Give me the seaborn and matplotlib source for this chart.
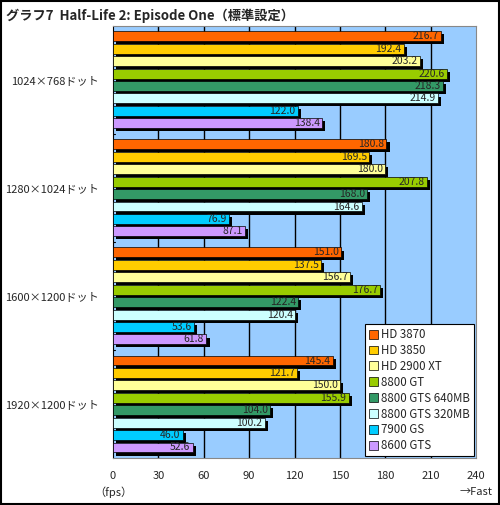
import numpy as np
import pandas as pd
import seaborn as sns
import matplotlib.pyplot as plt
import matplotlib.patheffects as pe
from matplotlib.patches import Rectangle

# data
resolutions = ["1024×768ドット", "1280×1024ドット", "1600×1200ドット", "1920×1200ドット"]
cards = ["HD 3870", "HD 3850", "HD 2900 XT", "8800 GT",
         "8800 GTS 640MB", "8800 GTS 320MB", "7900 GS", "8600 GTS"]
fps_1024 = [216.7, 192.4, 203.2, 220.6, 218.3, 214.9, 122.0, 138.4]
fps_1280 = [180.8, 169.5, 180.0, 207.8, 168.0, 164.6, 76.9, 87.1]
fps_1600 = [151.0, 137.5, 156.7, 176.7, 122.4, 120.4, 53.6, 61.8]
fps_1920 = [145.4, 121.7, 150.0, 155.9, 104.0, 100.2, 46.0, 52.6]
colors = ["#FF6600", "#FFCC00", "#FFFF99", "#99CC00",
          "#339966", "#CCFFFF", "#00CCFF", "#CC99FF"]
x_ticks = [0, 30, 60, 90, 120, 150, 180, 210, 240]

rows = []
for res, vals in zip(resolutions, [fps_1024, fps_1280, fps_1600, fps_1920]):
    for card, v in zip(cards, vals):
        rows.append({"res": res, "card": card, "fps": v})
df = pd.DataFrame(rows)

sns.set_style("white")
plt.rcParams['font.family'] = ['Noto Sans CJK JP', 'DejaVu Sans']

fig = plt.figure(figsize=(5, 5.05), dpi=100)
ax = fig.add_axes([0.226, 0.093, 0.726, 0.856])
ax.set_facecolor("#99CCFF")

sns.barplot(data=df, y="res", x="fps", hue="card", orient="h",
            palette=colors, saturation=1, width=0.92, gap=0.2, ax=ax,
            edgecolor="black", linewidth=0.5, zorder=3)

# black drop shadow + value label on every bar
shadow = [pe.SimplePatchShadow(offset=(2.2, -2.2), shadow_rgbFace="black", alpha=1.0), pe.Normal()]
for p in ax.patches:
    w = p.get_width()
    if w <= 0:
        continue
    p.set_path_effects(shadow)
    ax.text(w - 1.5, p.get_y() + p.get_height() / 2, f"{w:.1f}",
            ha="right", va="center", fontsize=7.5, zorder=5)

ax.set_xlim(0, 240)
ax.set_ylim(3.5, -0.5)
ax.set_xticks(x_ticks)
ax.set_xticklabels([str(t) for t in x_ticks], fontsize=8)
ax.tick_params(axis="x", length=0, pad=9)
for t in x_ticks[1:-1]:
    ax.axvline(t, color="black", linewidth=1, zorder=1)

ax.set_yticks(range(len(resolutions)))
ax.set_yticklabels(resolutions, fontsize=8)
ax.tick_params(axis="y", length=0, pad=10)
for b in [0.5, 1.5, 2.5]:
    ax.plot([0, 1.3], [b, b], color="black", linewidth=0.8, zorder=4)
ax.set_xlabel("")
ax.set_ylabel("")

for s in ["top", "right", "bottom"]:
    ax.spines[s].set_color("#888888")
ax.spines["left"].set_color("black")

leg = ax.legend(loc="lower right", fontsize=8.3, frameon=True, fancybox=False,
                framealpha=1, handlelength=0.8, handleheight=0.8, handletextpad=0.3,
                borderpad=0.35, labelspacing=0.25, borderaxespad=0.15)
leg.get_frame().set_edgecolor("black")
leg.get_frame().set_linewidth(0.8)
leg.set_zorder(10)
for h in leg.legend_handles:
    h.set_path_effects([])
    h.set_edgecolor("black")

fig.text(0.012, 0.968, "グラフ7  Half-Life 2: Episode One（標準設定）",
         fontsize=9.5, fontweight="bold", va="center", ha="left")
fig.text(0.226, 0.025, "（fps）", fontsize=8, ha="center", va="center")
fig.text(0.952, 0.025, "→Fast", fontsize=8, ha="center", va="center")

fig.add_artist(Rectangle((0.002, 0.002), 0.996, 0.996, transform=fig.transFigure,
                         fill=False, edgecolor="black", linewidth=1.5))

fig.savefig("out.png", dpi=100)
